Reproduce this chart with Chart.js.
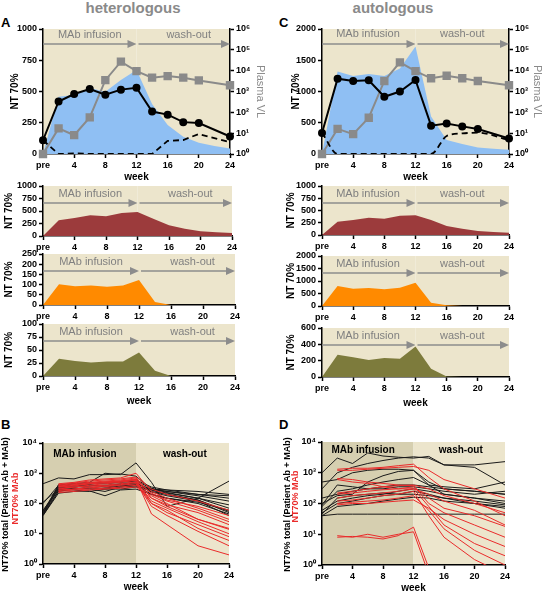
<!DOCTYPE html>
<html>
<head>
<meta charset="utf-8">
<script src="https://cdn.jsdelivr.net/npm/chart.js@4.4.1/dist/chart.umd.min.js"></script>
<style>
  body { margin: 0; background: #fff; width: 544px; height: 593px; position: relative; overflow: hidden;
         font-family: "Liberation Sans", Arial, sans-serif; }
  canvas { position: absolute; }
  .t { position: absolute; font-weight: bold; white-space: nowrap; }
</style>
</head>
<body>
<div class="t" style="left:33px;top:0;width:200px;text-align:center;font-size:15px;line-height:16px;color:#8a8a8a">heterologous</div>
<div class="t" style="left:293px;top:0;width:200px;text-align:center;font-size:15px;line-height:16px;color:#8a8a8a">autologous</div>
<div class="t" style="left:1px;top:16px;font-size:13px;line-height:13px">A</div>
<div class="t" style="left:279px;top:16px;font-size:13px;line-height:13px">C</div>
<div class="t" style="left:1px;top:418px;font-size:13px;line-height:13px">B</div>
<div class="t" style="left:279px;top:418px;font-size:13px;line-height:13px">D</div>
<script>
// weeks (pre = 0)
const areaWeeks = [0, 2, 4, 6, 8, 10, 12, 14, 16, 18, 20, 22, 24];
const ntWeeks = [0, 2, 4, 6, 8, 10, 12, 14, 16, 18, 20, 24];
const sWeeks = [0, 2, 4, 6, 8, 10, 12, 14, 16, 20, 24];
const xTickWeeks = [0, 4, 8, 12, 16, 20, 24];
const xTickLabels = ['pre', '4', '8', '12', '16', '20', '24'];

// heterologous (A)
const aMabNT = [0, 458, 472, 528, 498, 592, 672, 400, 232, 138, 90, 65, 45];
const aTotalNT = [110, 420, 480, 520, 475, 515, 530, 340, 315, 255, 248, 140];
const aPlasmaVL = [1, 17, 8, 57, 3500, 27000, 9500, 4600, 5500, 4600, 3400, 2000];
const aPatientNT = [110, 0, 5, 0, 0, 0, 0, 0, 105, 112, 160, 95];
const aMab1 = [0, 313, 360, 413, 393, 460, 480, 347, 213, 147, 93, 73, 60];
const aMab2 = [0, 102, 92, 95, 89, 95, 123, 15, 0, 0, 0, 0, 0];
const aMab3 = [0, 33, 29, 26, 28, 28, 45, 10, 0, 0, 0, 0, 0];

// autologous (C)
const cMabNT = [0, 1320, 1250, 1280, 1250, 1370, 1720, 600, 225, 160, 105, 85, 70];
const cTotalNT = [337, 1205, 1168, 1179, 916, 1000, 1184, 453, 489, 442, 400, 247];
const cPlasmaVL = [1, 16, 9, 55, 3200, 25000, 9500, 4300, 5700, 4300, 3200, 2000];
const cPatientNT = [340, 0, 0, 0, 0, 0, 0, 0, 288, 330, 341, 224];
const cMab1 = [0, 270, 304, 351, 331, 392, 405, 304, 182, 128, 81, 61, 47];
const cMab2 = [0, 800, 693, 720, 667, 733, 933, 133, 27, 0, 0, 0, 0];
const cMab3 = [0, 273, 241, 208, 233, 224, 375, 100, 5, 0, 0, 0, 0];

// y tick labels
const aTopTicks = [0, 250, 500, 750, 1000];
const cTopTicks = [0, 500, 1000, 1500, 2000];
const aMab1Ticks = [0, 250, 500, 750, 1000];
const aMab2Ticks = [0, 50, 100, 150, 200, 250];
const aMab3Ticks = [0, 25, 50, 75, 100];
const cMab1Ticks = [0, 250, 500, 750, 1000];
const cMab2Ticks = [0, 500, 1000, 1500, 2000];
const cMab3Ticks = [0, 200, 400, 600];
const vlTicks = [1, 10, 100, 1000, 10000, 100000, 1000000];
const logNtTicks = [1, 10, 100, 1000, 10000];

// B: individual patients (heterologous)
const bTotal = [
  [450, 700, 650, 900, 900, 950, 800, 300, 250, 200, 180],
  [100, 400, 450, 500, 1000, 900, 2200, 500, 80, 150, 550],
  [45, 300, 350, 400, 380, 450, 500, 250, 200, 130, 50],
  [40, 250, 300, 350, 300, 350, 400, 200, 150, 100, 45],
  [50, 350, 380, 420, 350, 400, 450, 300, 250, 180, 120],
  [60, 280, 320, 300, 250, 350, 380, 280, 220, 150, 90],
  [45, 420, 450, 480, 500, 520, 600, 350, 280, 200, 150],
  [110, 300, 280, 250, 300, 300, 350, 300, 280, 250, 200],
  [40, 220, 250, 260, 180, 280, 300, 200, 150, 110, 60],
  [55, 380, 400, 450, 450, 500, 550, 320, 230, 150, 70],
  [42, 260, 300, 320, 320, 380, 420, 240, 180, 120, 40],
  [48, 330, 350, 380, 400, 430, 480, 280, 200, 130, 55]
];
const bMab = [
  [null, 450, 500, 600, 650, 700, 1000, 250, 150, 70, 30],
  [null, 400, 450, 500, 550, 600, 700, 200, 120, 60, 25],
  [null, 350, 380, 450, 500, 550, 650, 150, 80, 30, 15],
  [null, 300, 350, 400, 450, 500, 600, 100, 50, 20, 8],
  [null, 380, 420, 480, 520, 560, 620, 45, 20, 4, 2],
  [null, 280, 300, 350, 380, 420, 500, 80, 40, 12, 4],
  [null, 250, 280, 300, 320, 350, 400, 180, 100, 30, 14],
  [null, 420, 480, 550, 600, 650, 750, 300, 200, 120, 60],
  [null, 320, 350, 380, 400, 450, 520, 120, 70, 25, 10],
  [null, 230, 250, 280, 300, 320, 350, 150, 90, 50, 20],
  [null, 360, 400, 450, 480, 520, 580, 220, 130, 80, 40],
  [null, 270, 300, 330, 360, 400, 450, 100, 60, 15, 6]
];

// D: individual patients (autologous)
const dTotal = [
  [1000, 3000, 2000, 4400, 3500, 3200, 3000, 3400, 1800, 1800, 2300],
  [300, 1000, 1500, 2000, 2500, 3000, 3300, 3000, 1800, 1500, 400],
  [100, 180, 200, 500, 800, 1100, 1200, 500, 300, 250, 200],
  [80, 250, 300, 400, 500, 600, 700, 400, 350, 300, 500],
  [40, 45, 45, 45, 45, 45, 45, 45, 45, 45, 45],
  [150, 200, 250, 300, 350, 400, 400, 350, 300, 250, 200],
  [60, 120, 150, 180, 200, 250, 300, 250, 200, 150, 120],
  [40, 80, 90, 100, 120, 140, 160, 150, 120, 100, 80],
  [500, 600, 1000, 1200, 1300, 1300, 1200, 400, 200, 150, 100],
  [45, 150, 180, 200, 220, 200, 200, 180, 150, 120, 90],
  [90, 400, 350, 300, 300, 350, 350, 300, 250, 200, 250],
  [50, 100, 120, 150, 180, 200, 250, 200, 150, 100, 70]
];
const dMab = [
  [null, 1300, 1400, 1400, 1500, 1700, 1900, 700, 300, 120, 40],
  [null, 1200, 1200, 1300, 1400, 1500, 1600, 1200, 600, 300, 150],
  [null, 650, 600, 500, 450, 400, 380, 100, 50, 20, 8],
  [null, 600, 500, 450, 350, 300, 300, 80, 20, 5, 2],
  [null, 200, 220, 250, 280, 300, 350, 150, 70, 40, 18],
  [null, 150, 180, 200, 220, 250, 300, 200, 120, 60, 20],
  [null, 120, 130, 150, 180, 200, 250, 40, 8, 1.5, 0.5],
  [null, 100, 110, 120, 130, 150, 180, 60, 15, 3, 1],
  [null, 90, 100, 100, 110, 120, 130, 70, 30, 10, 4],
  [null, 9, 8, 10, 8, 10, 12, 0.5, 0.2, 0.2, 0.2],
  [null, 8, 8.5, 8, 7, 9, 17, 0.8, 0.3, 0.2, 0.2],
  [null, 220, 250, 300, 350, 380, 400, 300, 180, 100, 50]
];

const beige = '#ece5cc';
const shadeDark = '#d6cfb0';
const gray = '#8a8a8a';
const red = '#ea2b2b';
const SUP = '⁰¹²³⁴⁵⁶';
Chart.defaults.font.family = '"Liberation Sans", Arial, sans-serif';

function pts(xs, ys) { return xs.map((x, i) => ({ x: x, y: ys[i] })); }
function supLabel(v) { return '10' + SUP[Math.round(Math.log10(v))]; }

function makeCanvas(b) {
  const c = document.createElement('canvas');
  c.width = b.width; c.height = b.height;
  c.style.left = b.left + 'px'; c.style.top = b.top + 'px';
  c.style.width = b.width + 'px'; c.style.height = b.height + 'px';
  document.body.appendChild(c);
  return c;
}

function drawArrow(ctx, x1, x2, y) {
  ctx.beginPath(); ctx.moveTo(x1, y); ctx.lineTo(x2 - 7, y); ctx.stroke();
  ctx.beginPath(); ctx.moveTo(x2, y); ctx.lineTo(x2 - 9, y - 4); ctx.lineTo(x2 - 9, y + 4);
  ctx.closePath(); ctx.fill();
}

function phasePlugin(o) {
  return {
    id: 'phase',
    beforeDraw(chart) {
      const { ctx, chartArea: a } = chart;
      const x12 = chart.scales.x.getPixelForValue(12);
      ctx.save();
      ctx.fillStyle = o.shade ? shadeDark : beige;
      ctx.fillRect(a.left, a.top, x12 - a.left, a.bottom - a.top);
      ctx.fillStyle = beige;
      ctx.fillRect(x12, a.top, a.right - x12, a.bottom - a.top);
      ctx.restore();
    },
    afterDatasetsDraw(chart) {
      const { ctx, chartArea: a } = chart;
      const x = chart.scales.x;
      ctx.save();
      ctx.font = o.font;
      ctx.fillStyle = o.color;
      ctx.textAlign = 'center';
      ctx.textBaseline = 'middle';
      ctx.fillText('MAb infusion', x.getPixelForValue(o.textX[0]), a.top + o.textDy);
      ctx.fillText('wash-out', x.getPixelForValue(o.textX[1]), a.top + o.textDy);
      if (o.arrows) {
        ctx.strokeStyle = '#8c8c8c'; ctx.fillStyle = '#8c8c8c'; ctx.lineWidth = 1.5;
        const y = a.top + o.arrowDy;
        drawArrow(ctx, x.getPixelForValue(0), x.getPixelForValue(12), y);
        drawArrow(ctx, x.getPixelForValue(12) + 2, x.getPixelForValue(24), y);
      }
      if (o.yTitles) {
        const mid = (a.top + a.bottom) / 2;
        ctx.font = 'bold 9px "Liberation Sans", Arial, sans-serif';
        o.yTitles.forEach(t => {
          ctx.save();
          ctx.translate(t.x, mid + t.dy);
          ctx.rotate(-Math.PI / 2);
          ctx.fillStyle = t.color;
          ctx.fillText(t.text, 0, 0);
          ctx.restore();
        });
      }
      ctx.restore();
    }
  };
}

const axisGrid = { drawOnChartArea: false, tickLength: 4, tickColor: '#000', tickWidth: 1.5 };
const axisBorder = { color: '#000', width: 1.5 };
const tickFont = { weight: 'bold', size: 9 };

function buildPanel(p) {
  const c = makeCanvas(p.box);
  const yW = p.plot.l - p.box.left;
  const xH = p.box.top + p.box.height - p.plot.b;
  const rightW = p.box.left + p.box.width - p.plot.r;
  const scales = {
    x: {
      type: 'linear', min: 0, max: 24,
      afterBuildTicks: s => { s.ticks = xTickWeeks.map(v => ({ value: v })); },
      ticks: { callback: (v, i) => xTickLabels[i], font: tickFont, color: '#000', padding: 2, maxRotation: 0, autoSkip: false },
      grid: axisGrid, border: axisBorder,
      title: { display: !!p.xTitle, text: 'week', color: '#000', font: { weight: 'bold', size: 10 }, padding: { top: 0, bottom: 0 } },
      afterFit: s => { s.height = xH; }
    },
    y: {
      type: p.logY ? 'logarithmic' : 'linear', position: 'left',
      min: p.yTicks[0], max: p.yTicks[p.yTicks.length - 1],
      afterBuildTicks: s => { s.ticks = p.yTicks.map(v => ({ value: v })); },
      ticks: { callback: p.logY ? supLabel : (v => String(v)), font: tickFont, color: '#000', padding: 2, autoSkip: false },
      grid: axisGrid, border: axisBorder,
      title: { display: p.yTitlePad !== undefined, text: 'NT 70%', color: '#000', font: { weight: 'bold', size: 10 }, padding: { top: p.yTitlePad || 0, bottom: 0 } },
      afterFit: s => { s.width = yW; }
    }
  };
  if (p.vl) {
    scales.y2 = {
      type: 'logarithmic', position: 'right', min: 1, max: 1000000,
      afterBuildTicks: s => { s.ticks = vlTicks.map(v => ({ value: v })); },
      ticks: { callback: supLabel, font: tickFont, color: '#000', padding: 2, autoSkip: false },
      grid: axisGrid, border: axisBorder,
      title: { display: true, text: 'Plasma VL', color: gray, font: { size: 11 }, padding: { top: p.vlPad, bottom: 0 } },
      afterFit: s => { s.width = rightW; }
    };
  }
  new Chart(c, {
    type: 'line',
    data: { datasets: p.datasets },
    options: {
      responsive: false, animation: false,
      layout: { padding: { left: 0, bottom: 0, top: p.plot.t - p.box.top, right: p.vl ? 0 : rightW } },
      plugins: { legend: { display: false }, tooltip: { enabled: false } },
      scales: scales
    },
    plugins: [phasePlugin(p.phase)]
  });
}

function topDatasets(mab, total, vl, patient, smoothPatient) {
  return [
    { data: pts(areaWeeks, mab), yAxisID: 'y', fill: 'origin', backgroundColor: '#8fbff3', borderWidth: 0, pointRadius: 0, order: 3 },
    { data: pts(ntWeeks, vl), yAxisID: 'y2', borderColor: gray, backgroundColor: gray, borderWidth: 2, pointStyle: 'rect', pointRadius: 4.5, clip: false, order: 2 },
    { data: pts(ntWeeks, patient), yAxisID: 'y', borderColor: '#000', borderWidth: 1.8, borderDash: [6, 4], pointRadius: 0, order: 1,
      cubicInterpolationMode: smoothPatient ? 'monotone' : 'default' },
    { data: pts(ntWeeks, total), yAxisID: 'y', borderColor: '#000', backgroundColor: '#000', borderWidth: 2, pointRadius: 3, clip: false, order: 0 }
  ];
}
function areaDataset(vals, color) {
  return [{ data: pts(areaWeeks, vals), fill: 'origin', backgroundColor: color, borderWidth: 0, pointRadius: 0 }];
}
function spaghetti(lines, color, order) {
  return lines.map(v => ({ data: pts(sWeeks, v), borderColor: color, borderWidth: 1, pointRadius: 0, order: order }));
}

const smallFont = '11px "Liberation Sans", Arial, sans-serif';
const phaseA = { textX: [6, 18.7], textDy: 8, arrowDy: 17, arrows: true, color: '#808080', font: smallFont };
const phaseC = { textX: [5.9, 18.0], textDy: 8, arrowDy: 17, arrows: true, color: '#808080', font: smallFont };

// left column
buildPanel({ box: { left: 0, top: 21, width: 272, height: 162 }, plot: { l: 43, r: 230, t: 29, b: 154 },
  xTitle: true, yTicks: aTopTicks, yTitlePad: 9, vl: true, vlPad: 5,
  phase: Object.assign({}, phaseA, { textDy: 6, arrowDy: 15 }),
  datasets: topDatasets(aMabNT, aTotalNT, aPlasmaVL, aPatientNT, false) });
buildPanel({ box: { left: 0, top: 178, width: 272, height: 76 }, plot: { l: 43, r: 232, t: 186, b: 236 },
  yTicks: aMab1Ticks, yTitlePad: 3, phase: phaseA, datasets: areaDataset(aMab1, '#9c3b3c') });
buildPanel({ box: { left: 0, top: 246, width: 272, height: 77 }, plot: { l: 43, r: 235, t: 254, b: 305 },
  yTicks: aMab2Ticks, yTitlePad: 3, phase: phaseA, datasets: areaDataset(aMab2, '#ff8a00') });
buildPanel({ box: { left: 0, top: 316, width: 272, height: 91 }, plot: { l: 43, r: 235, t: 324, b: 376 },
  xTitle: true, yTicks: aMab3Ticks, yTitlePad: 3, phase: phaseA, datasets: areaDataset(aMab3, '#7d7b3c') });
buildPanel({ box: { left: 0, top: 435, width: 272, height: 158 }, plot: { l: 43, r: 229, t: 443, b: 564 },
  xTitle: true, logY: true, yTicks: logNtTicks,
  phase: { shade: true, textX: [5.4, 18.3], textDy: 11, arrows: false, color: '#000', font: 'bold 10px "Liberation Sans", Arial, sans-serif',
    yTitles: [{ text: 'NT70% total (Patient Ab + MAb)', color: '#000', x: 6, dy: 1 }, { text: 'NT70% MAb', color: red, x: 16, dy: -5 }] },
  datasets: spaghetti(bTotal, '#1a1a1a', 1).concat(spaghetti(bMab, red, 0)) });

// right column
buildPanel({ box: { left: 272, top: 21, width: 272, height: 162 }, plot: { l: 322, r: 509, t: 29, b: 154 },
  xTitle: true, yTicks: cTopTicks, yTitlePad: 18, vl: true, vlPad: 0,
  phase: Object.assign({}, phaseC, { textDy: 5, arrowDy: 15 }),
  datasets: topDatasets(cMabNT, cTotalNT, cPlasmaVL, cPatientNT, true) });
buildPanel({ box: { left: 272, top: 178, width: 272, height: 75 }, plot: { l: 322, r: 509, t: 186, b: 235 },
  yTicks: cMab1Ticks, yTitlePad: 13, phase: phaseC, datasets: areaDataset(cMab1, '#9c3b3c') });
buildPanel({ box: { left: 272, top: 248, width: 272, height: 76 }, plot: { l: 322, r: 509, t: 256, b: 306 },
  yTicks: cMab2Ticks, yTitlePad: 13, phase: phaseC, datasets: areaDataset(cMab2, '#ff8a00') });
buildPanel({ box: { left: 272, top: 320, width: 272, height: 89 }, plot: { l: 322, r: 509, t: 328, b: 377 },
  xTitle: true, yTicks: cMab3Ticks, yTitlePad: 13, phase: phaseC, datasets: areaDataset(cMab3, '#7d7b3c') });
buildPanel({ box: { left: 272, top: 434, width: 272, height: 160 }, plot: { l: 322, r: 505, t: 442, b: 565 },
  xTitle: true, logY: true, yTicks: logNtTicks,
  phase: { shade: true, textX: [5.4, 18.2], textDy: 8, arrows: false, color: '#000', font: 'bold 10px "Liberation Sans", Arial, sans-serif',
    yTitles: [{ text: 'NT70% total (Patient Ab + MAb)', color: '#000', x: 16, dy: 1 }, { text: 'NT70% MAb', color: red, x: 24, dy: -7 }] },
  datasets: spaghetti(dTotal, '#1a1a1a', 1).concat(spaghetti(dMab, red, 0)) });
</script>
</body>
</html>
